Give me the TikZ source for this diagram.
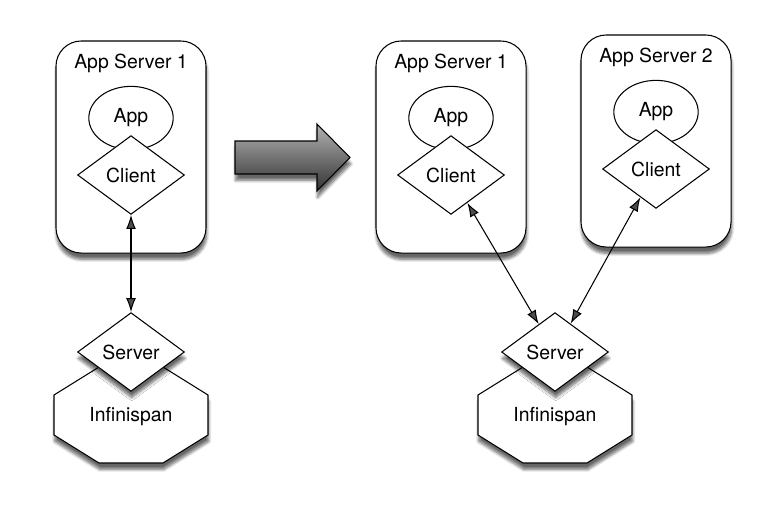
\documentclass[tikz,border=0pt]{standalone}
\usepackage{fontspec}
\setmainfont{TeX Gyre Heros}
\usetikzlibrary{shapes,arrows.meta,positioning,shadows.blur}

\begin{document}
\begin{tikzpicture}[x=0.025cm, y=-0.025cm, line width=0.75pt,
    font=\fontsize{13.8}{16}\selectfont,
    shadowed/.style={blur shadow={shadow xshift=0.5pt, shadow yshift=-4.5pt, shadow blur steps=7, shadow opacity=60}},
    serverbox/.style={draw, rectangle, rounded corners=18pt, fill=white, minimum width=106.7pt, minimum height=150.8pt, inner sep=0pt, shadowed},
    appunit/.style={draw, ellipse, fill=white, minimum width=60pt, minimum height=45pt, inner sep=0pt},
    port/.style={draw, diamond, fill=white, minimum width=76pt, minimum height=56pt, inner sep=0pt},
    storage/.style={draw, fill=white, shadowed},
    link/.style={{Latex[length=10pt,width=7pt]}-{Latex[length=10pt,width=7pt]}}]
    \useasboundingbox (0,0) rectangle (780,515);

    \foreach \n/\x/\y/\k in {l/131/0/1, a/451/0/1, b/656/6/2} {
        \node[serverbox] (box\n) at (\x,147-\y) {};
        \node (title\n) at (\x,63-\y) {App Server \k};
        \node[appunit] (app\n) at (\x,118-\y) {App};
        \node[port] (client\n) at (\x,175-\y) {Client};
    }

    \draw[top color=black!30, bottom color=black!80, shadowed] (235,141) -- (317,141) -- (317,124) -- (350,157.5) -- (317,191) -- (317,174) -- (235,174) -- cycle;

    \foreach \n/\x in {l/131, r/555} {
        \draw[storage] (\x,415) ++(-77,-20) -- ++(0,40) -- ++(45,28) -- ++(64,0) -- ++(45,-28) -- ++(0,-40) -- ++(-45,-28) -- ++(-64,0) -- cycle;
        \node (store\n) at (\x,417) {Infinispan};
        \node[port, shadowed] (server\n) at (\x,352) {Server};
    }

    \draw[link] (clientl) -- (serverl);
    \draw[link] (clienta) -- (serverr);
    \draw[link] (clientb) -- (serverr);
\end{tikzpicture}
\end{document}
